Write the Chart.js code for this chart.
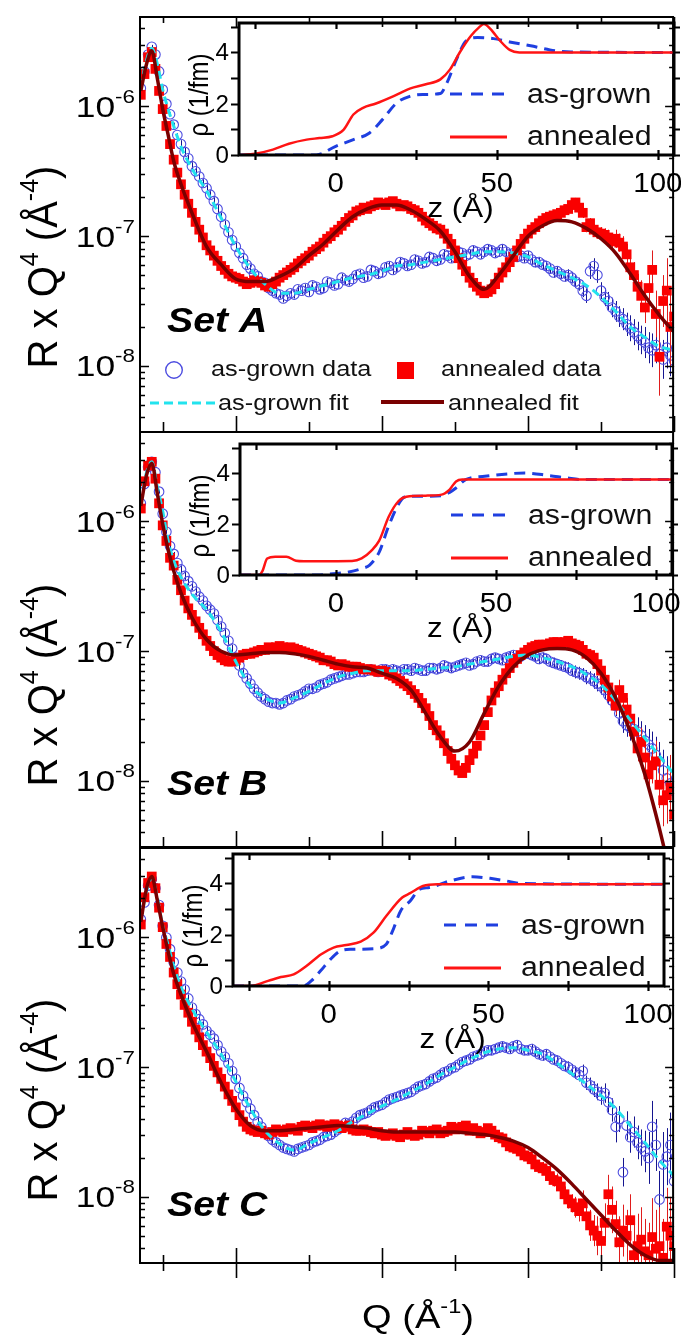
<!DOCTYPE html>
<html><head><meta charset="utf-8">
<script src="https://cdn.jsdelivr.net/npm/chart.js@4.4.1/dist/chart.umd.min.js"></script>
<style>
html,body{margin:0;padding:0;background:#fff;}
#wrap{position:relative;width:681px;height:1341px;overflow:hidden;background:#fff;}
canvas{position:absolute;left:0;top:0;}
</style></head><body>
<div id="wrap">
<canvas id="mA" width="681" height="1341"></canvas>
<canvas id="mB" width="681" height="1341"></canvas>
<canvas id="mC" width="681" height="1341"></canvas>
<canvas id="iA" width="681" height="1341"></canvas>
<canvas id="iB" width="681" height="1341"></canvas>
<canvas id="iC" width="681" height="1341"></canvas>
</div>
<script>
// ---------- axis / tick values ----------
const Q_TICKS = [0.02,0.04,0.06,0.08,0.10,0.12,0.14,0.16];
const Q_MAJOR = [0.04,0.08,0.12,0.16];
const R_DECADES = [-8,-7,-6];
const Z_TICKS = [-25,0,25,50,75,100];
const Z_LABELS = [0,50,100];
const RHO_TICKS = [0,1,2,3,4,5];
const RHO_LABELS = [0,2,4];

// ---------- Q grids (Å^-1) ----------
const qData = [
0.014,0.015,0.016,0.017,0.018,0.019,0.020,0.021,0.022,0.023,
0.024,0.025,0.026,0.027,0.028,0.029,0.030,0.031,0.032,0.033,
0.034,0.035,0.036,0.037,0.038,0.039,0.040,0.041,0.042,0.043,
0.044,0.045,0.046,0.047,0.048,0.049,0.050,0.051,0.052,0.053,
0.054,0.055,0.056,0.057,0.058,0.059,0.060,0.061,0.062,0.063,
0.064,0.065,0.066,0.067,0.068,0.069,0.070,0.071,0.072,0.073,
0.074,0.075,0.076,0.077,0.078,0.079,0.080,0.081,0.082,0.083,
0.084,0.085,0.086,0.087,0.088,0.089,0.090,0.091,0.092,0.093,
0.094,0.095,0.096,0.097,0.098,0.099,0.100,0.101,0.102,0.103,
0.104,0.105,0.106,0.107,0.108,0.109,0.110,0.111,0.112,0.113,
0.114,0.115,0.116,0.117,0.118,0.119,0.120,0.121,0.122,0.123,
0.124,0.125,0.126,0.127,0.128,0.129,0.130,0.131,0.132,0.133,
0.134,0.135,0.136,0.137,0.138,0.139,0.140,0.141,0.142,0.143,
0.144,0.145,0.146,0.147,0.148,0.149,0.150,0.151,0.152,0.153,
0.154,0.155,0.156,0.157,0.158,0.159,0.160];
const qFit = [0.014,0.0155,0.017,0.0185,0.020,0.0215,0.023,0.025,0.028,0.032,0.036,0.040,0.044,0.048,0.052,0.056,0.060,0.064,0.068,0.072,0.076,0.080,0.084,0.088,0.092,0.096,0.100,0.104,0.108,0.112,0.116,0.120,0.124,0.128,0.132,0.136,0.140,0.144,0.148,0.152,0.156,0.160];

// ---------- log10(R x Q^4) values ----------
const agDataA = [
-5.86,-5.73,-5.60,-5.54,-5.60,-5.73,-5.87,-5.98,-6.06,-6.14,
-6.22,-6.29,-6.35,-6.40,-6.46,-6.50,-6.54,-6.59,-6.63,-6.68,
-6.73,-6.79,-6.85,-6.91,-6.97,-7.03,-7.08,-7.13,-7.17,-7.22,
-7.25,-7.29,-7.31,-7.35,-7.36,-7.40,-7.42,-7.44,-7.45,-7.48,
-7.46,-7.44,-7.45,-7.41,-7.42,-7.40,-7.43,-7.38,-7.39,-7.41,
-7.40,-7.35,-7.36,-7.38,-7.37,-7.32,-7.34,-7.35,-7.33,-7.30,
-7.29,-7.32,-7.31,-7.26,-7.27,-7.29,-7.28,-7.24,-7.23,-7.26,
-7.24,-7.20,-7.21,-7.23,-7.22,-7.18,-7.19,-7.21,-7.20,-7.16,
-7.17,-7.19,-7.18,-7.14,-7.15,-7.17,-7.16,-7.12,-7.13,-7.15,
-7.14,-7.11,-7.12,-7.14,-7.12,-7.10,-7.11,-7.13,-7.12,-7.10,
-7.12,-7.14,-7.13,-7.16,-7.15,-7.17,-7.15,-7.18,-7.20,-7.20,
-7.22,-7.23,-7.25,-7.28,-7.27,-7.29,-7.31,-7.30,-7.32,-7.35,
-7.37,-7.42,-7.46,-7.27,-7.23,-7.30,-7.42,-7.47,-7.50,-7.55,
-7.58,-7.62,-7.64,-7.68,-7.71,-7.74,-7.77,-7.80,-7.82,-7.86,
-7.88,-7.84,-7.91,-7.95,-7.86,-7.92,-7.96];
const anDataA = [
-5.91,-5.75,-5.62,-5.58,-5.71,-5.88,-6.02,-6.15,-6.29,-6.41,
-6.51,-6.60,-6.68,-6.75,-6.82,-6.89,-6.95,-7.01,-7.07,-7.11,
-7.15,-7.19,-7.23,-7.26,-7.29,-7.31,-7.32,-7.33,-7.35,-7.37,
-7.36,-7.34,-7.35,-7.36,-7.38,-7.39,-7.37,-7.35,-7.32,-7.30,
-7.28,-7.26,-7.24,-7.21,-7.19,-7.17,-7.15,-7.12,-7.10,-7.08,
-7.05,-7.02,-7.00,-6.97,-6.95,-6.92,-6.89,-6.86,-6.84,-6.81,
-6.80,-6.78,-6.79,-6.77,-6.76,-6.74,-6.75,-6.76,-6.74,-6.73,
-6.75,-6.77,-6.76,-6.77,-6.79,-6.80,-6.82,-6.85,-6.88,-6.90,
-6.92,-6.94,-6.95,-6.98,-7.02,-7.06,-7.11,-7.17,-7.22,-7.27,
-7.32,-7.36,-7.39,-7.42,-7.44,-7.43,-7.41,-7.37,-7.32,-7.28,
-7.24,-7.20,-7.16,-7.11,-7.06,-7.02,-6.98,-6.95,-6.93,-6.90,
-6.88,-6.86,-6.85,-6.84,-6.83,-6.82,-6.80,-6.79,-6.76,-6.74,
-6.78,-6.82,-6.93,-6.90,-6.95,-6.97,-6.98,-6.99,-7.01,-7.04,
-7.02,-7.05,-7.08,-7.14,-7.24,-7.30,-7.39,-7.46,-7.55,-7.40,
-7.26,-7.60,-7.93,-7.50,-7.42,-7.70,-7.62];
const agFitA = [-5.85,-5.65,-5.55,-5.67,-5.87,-6.02,-6.15,-6.31,-6.48,-6.65,-6.86,-7.08,-7.25,-7.37,-7.44,-7.44,-7.41,-7.38,-7.35,-7.32,-7.30,-7.27,-7.23,-7.22,-7.20,-7.18,-7.16,-7.14,-7.12,-7.12,-7.13,-7.16,-7.22,-7.27,-7.32,-7.38,-7.47,-7.58,-7.70,-7.78,-7.85,-7.88];
const anFitA = [-5.88,-5.68,-5.57,-5.78,-6.02,-6.22,-6.42,-6.60,-6.82,-7.08,-7.22,-7.33,-7.35,-7.35,-7.31,-7.25,-7.15,-7.06,-6.95,-6.85,-6.79,-6.76,-6.76,-6.80,-6.87,-6.96,-7.12,-7.31,-7.41,-7.30,-7.15,-7.00,-6.92,-6.88,-6.89,-6.94,-7.02,-7.13,-7.29,-7.46,-7.61,-7.74];

const agDataB = [
-5.86,-5.71,-5.58,-5.54,-5.62,-5.77,-5.94,-6.08,-6.19,-6.25,
-6.32,-6.37,-6.42,-6.46,-6.50,-6.54,-6.58,-6.61,-6.65,-6.68,
-6.71,-6.76,-6.81,-6.86,-6.92,-6.98,-7.05,-7.11,-7.17,-7.21,
-7.25,-7.29,-7.32,-7.35,-7.37,-7.39,-7.40,-7.40,-7.41,-7.40,
-7.38,-7.37,-7.35,-7.34,-7.33,-7.31,-7.29,-7.29,-7.28,-7.26,
-7.25,-7.24,-7.22,-7.21,-7.20,-7.19,-7.18,-7.18,-7.17,-7.16,
-7.16,-7.16,-7.15,-7.14,-7.15,-7.16,-7.14,-7.14,-7.15,-7.14,
-7.15,-7.16,-7.14,-7.14,-7.15,-7.13,-7.14,-7.15,-7.15,-7.13,
-7.13,-7.14,-7.13,-7.11,-7.12,-7.13,-7.12,-7.11,-7.10,-7.09,
-7.11,-7.10,-7.08,-7.07,-7.08,-7.08,-7.06,-7.05,-7.06,-7.07,
-7.05,-7.04,-7.03,-7.05,-7.04,-7.02,-7.02,-7.03,-7.04,-7.06,
-7.05,-7.06,-7.08,-7.09,-7.10,-7.11,-7.12,-7.13,-7.15,-7.16,
-7.17,-7.18,-7.20,-7.21,-7.23,-7.25,-7.27,-7.30,-7.34,-7.38,
-7.42,-7.48,-7.54,-7.57,-7.59,-7.60,-7.62,-7.65,-7.69,-7.72,
-7.75,-7.80,-7.85,-7.92,-7.98,-8.02,-8.08];
const anDataB = [
-5.90,-5.69,-5.57,-5.54,-5.67,-5.86,-6.03,-6.15,-6.28,-6.34,
-6.45,-6.53,-6.61,-6.67,-6.72,-6.77,-6.82,-6.87,-6.92,-6.96,
-7.00,-7.03,-7.05,-7.07,-7.08,-7.08,-7.07,-7.05,-7.03,-7.02,
-7.02,-7.01,-7.00,-6.99,-6.99,-6.97,-6.98,-6.97,-6.96,-6.97,
-6.98,-6.97,-6.98,-6.99,-7.00,-7.01,-7.02,-7.03,-7.04,-7.05,
-7.07,-7.07,-7.08,-7.10,-7.11,-7.10,-7.11,-7.12,-7.12,-7.12,
-7.13,-7.14,-7.14,-7.14,-7.15,-7.16,-7.15,-7.16,-7.18,-7.19,
-7.21,-7.23,-7.25,-7.27,-7.30,-7.33,-7.36,-7.40,-7.44,-7.50,
-7.57,-7.61,-7.65,-7.71,-7.77,-7.83,-7.88,-7.92,-7.94,-7.90,
-7.84,-7.79,-7.73,-7.65,-7.57,-7.47,-7.38,-7.32,-7.27,-7.22,
-7.17,-7.13,-7.09,-7.06,-7.03,-7.01,-6.99,-6.97,-6.96,-6.95,
-6.95,-6.95,-6.94,-6.93,-6.93,-6.94,-6.93,-6.92,-6.94,-6.95,
-6.96,-6.99,-7.02,-7.03,-7.05,-7.10,-7.15,-7.22,-7.28,-7.35,
-7.42,-7.30,-7.36,-7.45,-7.52,-7.62,-7.75,-7.70,-7.82,-7.95,
-7.88,-7.85,-8.03,-8.15,-8.11,-8.05,-8.26];
const agFitB = [-5.85,-5.63,-5.54,-5.73,-5.92,-6.15,-6.30,-6.43,-6.56,-6.68,-6.85,-7.08,-7.27,-7.36,-7.40,-7.36,-7.31,-7.25,-7.20,-7.17,-7.15,-7.15,-7.15,-7.15,-7.14,-7.13,-7.12,-7.10,-7.08,-7.06,-7.04,-7.03,-7.05,-7.08,-7.12,-7.18,-7.26,-7.38,-7.53,-7.67,-7.81,-7.95];
const anFitB = [-5.88,-5.65,-5.55,-5.78,-6.02,-6.22,-6.38,-6.55,-6.74,-6.91,-7.00,-7.03,-7.02,-7.01,-7.01,-7.02,-7.04,-7.07,-7.10,-7.12,-7.13,-7.17,-7.21,-7.30,-7.48,-7.66,-7.77,-7.70,-7.48,-7.27,-7.12,-7.03,-6.99,-6.98,-6.99,-7.05,-7.17,-7.36,-7.62,-7.95,-8.37,-8.85];

const agDataC = [
-5.86,-5.73,-5.60,-5.55,-5.62,-5.75,-5.91,-6.00,-6.09,-6.19,
-6.27,-6.34,-6.40,-6.47,-6.54,-6.59,-6.63,-6.67,-6.72,-6.75,
-6.78,-6.83,-6.88,-6.92,-6.97,-7.03,-7.09,-7.16,-7.22,-7.27,
-7.32,-7.37,-7.42,-7.46,-7.50,-7.53,-7.56,-7.58,-7.60,-7.62,
-7.63,-7.64,-7.65,-7.63,-7.62,-7.61,-7.60,-7.58,-7.57,-7.56,
-7.54,-7.53,-7.52,-7.50,-7.48,-7.46,-7.43,-7.44,-7.42,-7.39,
-7.37,-7.36,-7.35,-7.33,-7.31,-7.30,-7.29,-7.27,-7.25,-7.24,
-7.23,-7.22,-7.21,-7.20,-7.19,-7.17,-7.15,-7.14,-7.13,-7.11,
-7.09,-7.08,-7.06,-7.04,-7.03,-7.01,-7.00,-6.98,-6.96,-6.95,
-6.94,-6.92,-6.91,-6.90,-6.88,-6.87,-6.87,-6.86,-6.85,-6.84,
-6.85,-6.86,-6.84,-6.83,-6.86,-6.87,-6.87,-6.86,-6.88,-6.90,
-6.91,-6.90,-6.92,-6.94,-6.95,-6.97,-6.99,-7.00,-7.02,-7.04,
-7.06,-7.03,-7.12,-7.14,-7.17,-7.19,-7.22,-7.20,-7.27,-7.33,
-7.46,-7.40,-7.81,-7.45,-7.54,-7.50,-7.58,-7.62,-7.65,-7.70,
-7.46,-7.60,-8.02,-7.75,-7.69,-7.60,-7.88];
const anDataC = [
-5.90,-5.69,-5.58,-5.53,-5.62,-5.77,-5.92,-6.05,-6.15,-6.27,
-6.36,-6.44,-6.52,-6.58,-6.65,-6.71,-6.77,-6.83,-6.88,-6.93,
-6.99,-7.04,-7.09,-7.15,-7.21,-7.26,-7.31,-7.37,-7.42,-7.46,
-7.48,-7.49,-7.50,-7.49,-7.51,-7.52,-7.50,-7.48,-7.49,-7.50,
-7.48,-7.47,-7.48,-7.49,-7.46,-7.45,-7.46,-7.47,-7.45,-7.44,
-7.45,-7.46,-7.45,-7.44,-7.45,-7.47,-7.46,-7.45,-7.48,-7.49,
-7.49,-7.48,-7.49,-7.50,-7.51,-7.50,-7.52,-7.53,-7.52,-7.51,
-7.53,-7.54,-7.52,-7.50,-7.52,-7.53,-7.52,-7.49,-7.50,-7.51,
-7.49,-7.48,-7.51,-7.50,-7.49,-7.46,-7.48,-7.47,-7.46,-7.45,
-7.49,-7.47,-7.49,-7.51,-7.50,-7.47,-7.49,-7.52,-7.54,-7.55,
-7.58,-7.61,-7.62,-7.63,-7.65,-7.68,-7.69,-7.71,-7.75,-7.77,
-7.78,-7.80,-7.84,-7.87,-7.88,-7.92,-7.98,-8.02,-8.05,-8.08,
-8.11,-8.05,-8.15,-8.22,-8.26,-8.30,-8.34,-8.20,-7.98,-8.10,
-8.21,-8.35,-8.26,-8.30,-8.18,-8.45,-8.38,-8.33,-8.42,-8.45,
-8.31,-8.40,-8.38,-8.47,-8.23,-8.30,-8.38];
const agFitC = [-5.86,-5.65,-5.54,-5.69,-5.91,-6.06,-6.22,-6.38,-6.55,-6.73,-6.90,-7.11,-7.32,-7.49,-7.59,-7.64,-7.59,-7.54,-7.49,-7.42,-7.36,-7.30,-7.25,-7.19,-7.13,-7.06,-7.00,-6.94,-6.89,-6.86,-6.85,-6.87,-6.90,-6.97,-7.05,-7.13,-7.22,-7.32,-7.45,-7.58,-7.72,-7.84];
const anFitC = [-5.88,-5.63,-5.53,-5.71,-5.92,-6.11,-6.28,-6.44,-6.65,-6.88,-7.12,-7.32,-7.45,-7.49,-7.49,-7.48,-7.47,-7.46,-7.45,-7.46,-7.47,-7.49,-7.50,-7.50,-7.50,-7.50,-7.50,-7.51,-7.52,-7.54,-7.57,-7.62,-7.70,-7.79,-7.90,-8.02,-8.14,-8.26,-8.37,-8.45,-8.49,-8.49];

// ---------- error half-widths (decades), same Q grid ----------
const agErrA = [
0.015,0.015,0.015,0.015,0.015,0.015,0.015,0.015,0.015,0.015,
0.015,0.03,0.03,0.03,0.03,0.03,0.03,0.03,0.03,0.03,
0.03,0.03,0.03,0.03,0.03,0.03,0.03,0.03,0.03,0.03,
0.03,0.03,0.03,0.03,0.03,0.03,0.03,0.03,0.03,0.03,
0.03,0.03,0.03,0.03,0.03,0.03,0.03,0.03,0.03,0.03,
0.03,0.03,0.03,0.03,0.03,0.03,0.03,0.03,0.03,0.03,
0.03,0.03,0.035,0.035,0.035,0.035,0.035,0.035,0.035,0.035,
0.035,0.035,0.035,0.035,0.035,0.035,0.035,0.035,0.035,0.035,
0.035,0.035,0.035,0.035,0.035,0.035,0.035,0.035,0.035,0.035,
0.035,0.035,0.035,0.035,0.035,0.035,0.035,0.035,0.035,0.035,
0.035,0.035,0.035,0.035,0.035,0.035,0.035,0.04,0.04,0.04,
0.04,0.04,0.04,0.04,0.04,0.04,0.04,0.045,0.045,0.05,
0.05,0.05,0.055,0.06,0.06,0.06,0.065,0.07,0.07,0.075,
0.08,0.08,0.085,0.09,0.1,0.1,0.11,0.11,0.12,0.12,
0.13,0.14,0.14,0.15,0.16,0.16,0.17];
const anErrA = [
0.01,0.01,0.01,0.01,0.01,0.01,0.01,0.01,0.01,0.01,
0.01,0.02,0.02,0.02,0.02,0.02,0.02,0.02,0.02,0.02,
0.02,0.02,0.02,0.02,0.02,0.02,0.02,0.02,0.02,0.02,
0.02,0.02,0.02,0.02,0.02,0.02,0.02,0.02,0.02,0.02,
0.02,0.02,0.02,0.02,0.02,0.02,0.02,0.02,0.02,0.02,
0.02,0.02,0.02,0.02,0.02,0.02,0.02,0.02,0.02,0.02,
0.02,0.02,0.02,0.02,0.02,0.02,0.02,0.02,0.02,0.02,
0.02,0.02,0.02,0.02,0.02,0.02,0.02,0.02,0.02,0.02,
0.02,0.02,0.02,0.02,0.02,0.02,0.02,0.02,0.02,0.02,
0.02,0.02,0.02,0.02,0.02,0.02,0.02,0.02,0.02,0.02,
0.02,0.02,0.02,0.02,0.02,0.02,0.02,0.03,0.03,0.03,
0.03,0.03,0.03,0.03,0.03,0.03,0.03,0.03,0.035,0.035,
0.035,0.04,0.04,0.04,0.045,0.05,0.05,0.05,0.06,0.06,
0.07,0.07,0.08,0.08,0.09,0.1,0.1,0.12,0.12,0.14,
0.15,0.18,0.3,0.2,0.25,0.3,0.3];
const agErrB = [
0.015,0.015,0.015,0.015,0.015,0.015,0.015,0.015,0.015,0.015,
0.015,0.03,0.03,0.03,0.03,0.03,0.03,0.03,0.03,0.03,
0.03,0.03,0.03,0.03,0.03,0.03,0.03,0.03,0.03,0.03,
0.03,0.03,0.03,0.03,0.03,0.03,0.03,0.03,0.03,0.03,
0.03,0.03,0.03,0.03,0.03,0.03,0.03,0.03,0.03,0.03,
0.03,0.03,0.03,0.03,0.03,0.03,0.03,0.03,0.03,0.03,
0.03,0.03,0.035,0.035,0.035,0.035,0.035,0.035,0.035,0.035,
0.035,0.035,0.035,0.035,0.035,0.035,0.035,0.035,0.035,0.035,
0.035,0.035,0.035,0.035,0.035,0.035,0.035,0.035,0.035,0.035,
0.035,0.035,0.035,0.035,0.035,0.035,0.035,0.035,0.035,0.035,
0.035,0.035,0.035,0.035,0.035,0.035,0.035,0.04,0.04,0.04,
0.04,0.04,0.04,0.04,0.04,0.04,0.04,0.045,0.045,0.05,
0.05,0.05,0.055,0.055,0.06,0.06,0.065,0.07,0.07,0.075,
0.08,0.085,0.09,0.09,0.1,0.1,0.11,0.11,0.12,0.12,
0.13,0.14,0.15,0.16,0.17,0.18,0.2];
const anErrB = [
0.01,0.01,0.01,0.01,0.01,0.01,0.01,0.01,0.01,0.01,
0.01,0.02,0.02,0.02,0.02,0.02,0.02,0.02,0.02,0.02,
0.02,0.02,0.02,0.02,0.02,0.02,0.02,0.02,0.02,0.02,
0.02,0.02,0.02,0.02,0.02,0.02,0.02,0.02,0.02,0.02,
0.02,0.02,0.02,0.02,0.02,0.02,0.02,0.02,0.02,0.02,
0.02,0.02,0.02,0.02,0.02,0.02,0.02,0.02,0.02,0.02,
0.02,0.02,0.02,0.02,0.02,0.02,0.02,0.02,0.02,0.02,
0.02,0.02,0.02,0.02,0.02,0.02,0.02,0.02,0.02,0.02,
0.02,0.02,0.02,0.02,0.02,0.02,0.02,0.02,0.02,0.02,
0.02,0.02,0.02,0.02,0.02,0.02,0.02,0.02,0.02,0.02,
0.02,0.02,0.02,0.02,0.02,0.02,0.02,0.03,0.03,0.03,
0.03,0.03,0.03,0.03,0.03,0.03,0.03,0.03,0.035,0.035,
0.035,0.04,0.04,0.045,0.045,0.05,0.05,0.06,0.06,0.07,
0.07,0.08,0.08,0.09,0.09,0.1,0.1,0.11,0.12,0.13,
0.14,0.16,0.18,0.2,0.22,0.25,0.25];
const agErrC = [
0.015,0.015,0.015,0.015,0.015,0.015,0.015,0.015,0.015,0.015,
0.015,0.03,0.03,0.03,0.03,0.03,0.03,0.03,0.03,0.03,
0.03,0.03,0.03,0.03,0.03,0.03,0.03,0.03,0.03,0.03,
0.03,0.03,0.03,0.03,0.03,0.03,0.03,0.03,0.03,0.03,
0.03,0.03,0.03,0.03,0.03,0.03,0.03,0.03,0.03,0.03,
0.03,0.03,0.03,0.03,0.03,0.03,0.03,0.03,0.03,0.03,
0.03,0.03,0.035,0.035,0.035,0.035,0.035,0.035,0.035,0.035,
0.035,0.035,0.035,0.035,0.035,0.035,0.035,0.035,0.035,0.035,
0.035,0.035,0.035,0.035,0.035,0.035,0.035,0.035,0.035,0.035,
0.035,0.035,0.035,0.035,0.035,0.035,0.035,0.035,0.035,0.035,
0.035,0.035,0.035,0.035,0.035,0.035,0.035,0.04,0.04,0.04,
0.04,0.04,0.04,0.04,0.04,0.04,0.04,0.045,0.045,0.05,
0.05,0.05,0.055,0.06,0.06,0.065,0.07,0.075,0.08,0.09,
0.12,0.1,0.11,0.11,0.12,0.12,0.13,0.14,0.16,0.2,
0.2,0.2,0.22,0.25,0.22,0.25,0.25];
const anErrC = [
0.01,0.01,0.01,0.01,0.01,0.01,0.01,0.01,0.01,0.01,
0.01,0.02,0.02,0.02,0.02,0.02,0.02,0.02,0.02,0.02,
0.02,0.02,0.02,0.02,0.02,0.02,0.02,0.02,0.02,0.02,
0.02,0.02,0.02,0.02,0.02,0.02,0.02,0.02,0.02,0.02,
0.02,0.02,0.02,0.02,0.02,0.02,0.02,0.02,0.02,0.02,
0.02,0.02,0.02,0.02,0.02,0.02,0.02,0.02,0.02,0.02,
0.02,0.02,0.02,0.02,0.02,0.02,0.02,0.02,0.02,0.02,
0.02,0.02,0.02,0.02,0.02,0.02,0.02,0.02,0.02,0.02,
0.02,0.02,0.02,0.02,0.02,0.02,0.02,0.02,0.02,0.02,
0.02,0.02,0.02,0.02,0.02,0.02,0.02,0.02,0.02,0.02,
0.02,0.02,0.02,0.02,0.02,0.02,0.02,0.04,0.04,0.04,
0.05,0.05,0.05,0.05,0.06,0.06,0.06,0.07,0.07,0.08,
0.08,0.1,0.1,0.12,0.12,0.15,0.15,0.15,0.15,0.18,
0.18,0.2,0.2,0.2,0.2,0.25,0.25,0.25,0.25,0.25,
0.3,0.3,0.3,0.3,0.3,0.3,0.3];

// ---------- inset density profiles: z (Å), rho (1/fm) ----------
const zAnA = [-30,-25,-19.5,-14.5,-9,-5,-1,2.5,5.5,8.5,12.5,18,23,28,32.5,35.5,38.5,42,44.5,46,48,51,54,57,71,105];
const rhoAnA = [0,0.05,0.21,0.44,0.6,0.66,0.73,0.99,1.58,1.84,2.01,2.30,2.59,2.76,2.95,3.34,4.0,4.65,4.98,5.11,4.92,4.46,4.1,4.0,4.0,4.0];
const zAgA = [-30,-6,0,5.5,10.5,14.5,19,23,27,32.5,34.5,37.5,40.5,44,49,54,60.5,66.5,73,105];
const rhoAgA = [0,0,0.34,0.6,0.86,1.38,2.04,2.29,2.36,2.4,2.81,3.73,4.45,4.58,4.54,4.41,4.26,4.1,4.02,4.0];
const zAnB = [-30,-24,-23,-21.5,-19,-15.5,-12.5,-10,5,8,11,13.5,16.5,19.5,22,28,33,35.5,37.5,39.5,105];
const rhoAnB = [0,0,0.15,0.65,0.72,0.72,0.56,0.54,0.55,0.65,0.95,1.35,2.3,2.9,3.08,3.12,3.16,3.36,3.68,3.75,3.75];
const zAgB = [-30,-6,-1,4,8,10.5,13.5,16.5,20.5,23,28,33,35.5,37.5,40.5,46.5,54,59,66.5,72,77,105];
const rhoAgB = [0,0,0.05,0.12,0.25,0.39,0.9,1.94,2.97,3.1,3.1,3.12,3.25,3.42,3.75,3.88,3.98,4.01,3.91,3.82,3.75,3.75];
const zAnC = [-30,-24.5,-19,-15,-11,-7,-2.5,1.5,5.5,10,14,18,23,25.5,29.5,34,105];
const rhoAnC = [0,0,0.2,0.35,0.45,0.78,1.23,1.5,1.6,1.73,2.08,2.73,3.45,3.62,3.9,3.97,3.97];
const zAgC = [-30,-8,-5.5,-2.5,0.5,3.5,7,14,18,20,22.5,25.5,28.5,31.5,38,45,50.5,55.5,60,105];
const rhoAgC = [0,0,0.2,0.6,1.04,1.36,1.43,1.45,1.63,2.15,2.93,3.32,3.78,3.84,4.1,4.26,4.2,4.1,4.0,3.97];

// sanity check of lengths
[['agDataA',agDataA],['anDataA',anDataA],['agDataB',agDataB],['anDataB',anDataB],['agDataC',agDataC],['anDataC',anDataC],
 ['agErrA',agErrA],['anErrA',anErrA],['agErrB',agErrB],['anErrB',anErrB],['agErrC',agErrC],['anErrC',anErrC]].forEach(([n,a]) => {
  if (a.length !== qData.length) throw new Error(n + ' length ' + a.length + ' vs ' + qData.length);
});
[['agFitA',agFitA],['anFitA',anFitA],['agFitB',agFitB],['anFitB',anFitB],['agFitC',agFitC],['anFitC',anFitC]].forEach(([n,a]) => {
  if (a.length !== qFit.length) throw new Error(n + ' length ' + a.length);
});

// ---------- styling ----------
const FONT = '"Liberation Sans", Arial, Helvetica, sans-serif';
const SX = 1.12;
const C_AG = '#4d4de0', C_AGERR = '#15158f', C_AN = '#fa0000', C_ANERR = '#e01c1c';
const C_AGFIT = '#22e3ee', C_ANFIT = '#7a0000', C_IBLUE = '#1f3fe0', C_IRED = '#ff1414';

function rich(ctx, parts, x, y, align, o = {}) {
  const sx = o.sx !== undefined ? o.sx : SX;
  ctx.save();
  ctx.fillStyle = o.color || '#000';
  ctx.textBaseline = 'alphabetic'; ctx.textAlign = 'left';
  const font = p => `${o.style || 'normal'} ${o.weight || 'normal'} ${p.s}px ${FONT}`;
  let w = 0;
  parts.forEach(p => { ctx.font = font(p); p.w = ctx.measureText(p.t).width; w += p.w; });
  ctx.translate(x, y);
  if (o.rot) { ctx.rotate(o.rot); ctx.scale(1, sx); } else ctx.scale(sx, 1);
  let cx = align === 'center' ? -w / 2 : align === 'right' ? -w : 0;
  parts.forEach(p => { ctx.font = font(p); ctx.fillText(p.t, cx, -(p.rise || 0)); cx += p.w; });
  ctx.restore();
}

const errBars = {
  id: 'errBars',
  beforeDatasetDraw(chart, args) {
    const ds = chart.data.datasets[args.index];
    if (!ds.errDec) return;
    const {ctx, chartArea: a, scales: {x, y}} = chart;
    ctx.save();
    ctx.beginPath(); ctx.rect(a.left, a.top, a.right - a.left, a.bottom - a.top); ctx.clip();
    ctx.strokeStyle = ds.errColor; ctx.lineWidth = ds.errWidth || 1;
    ctx.beginPath();
    ds.data.forEach((p, i) => {
      const e = ds.errDec[i], lv = Math.log10(p.y);
      const px = Math.round(x.getPixelForValue(p.x)) + 0.5;
      ctx.moveTo(px, y.getPixelForValue(Math.pow(10, lv + e)));
      ctx.lineTo(px, y.getPixelForValue(Math.pow(10, lv - e)));
    });
    ctx.stroke(); ctx.restore();
  }
};

const mainDeco = {
  id: 'mainDeco',
  afterDraw(chart) {
    const o = chart.options.plugins.mainDeco;
    const {ctx, chartArea: a, scales: {x, y}} = chart;
    ctx.save();
    ctx.strokeStyle = '#000'; ctx.lineWidth = 1.6;
    ctx.beginPath();
    for (let e = -9; e <= -5; e++) for (let k = 1; k <= 9; k++) {
      const v = k * Math.pow(10, e);
      if (v < y.min || v > y.max) continue;
      const py = Math.round(y.getPixelForValue(v)) + 0.5;
      const len = k === 1 ? 9 : 5;
      ctx.moveTo(a.left, py); ctx.lineTo(a.left + len, py);
      ctx.moveTo(a.right, py); ctx.lineTo(a.right - len, py);
    }
    Q_TICKS.forEach(q => {
      const px = Math.round(x.getPixelForValue(q)) + 0.5;
      const major = Q_MAJOR.includes(q);
      if (o.xStyle === 'cross') {
        const len = major ? 15 : 8;
        ctx.moveTo(px, a.bottom - len); ctx.lineTo(px, a.bottom + len);
      } else {
        const len = major ? 16 : 10;
        ctx.moveTo(px, a.bottom); ctx.lineTo(px, a.bottom - len);
      }
      if (o.topTicks) { ctx.moveTo(px, a.top); ctx.lineTo(px, a.top + (major ? 10 : 6)); }
    });
    ctx.stroke();
    ctx.lineWidth = 2;
    ctx.strokeRect(a.left, a.top, a.right - a.left - 1, a.bottom - a.top);
    R_DECADES.forEach(e => {
      const py = y.getPixelForValue(Math.pow(10, e));
      rich(ctx, [{t: '10', s: 30}, {t: String(e), s: 19, rise: 14}], 135, py + 10.5, 'right', {sx: 1.18});
    });
    rich(ctx, [{t: 'R x Q', s: 40}, {t: '4', s: 25, rise: 18}, {t: ' (Å', s: 40}, {t: '-4', s: 25, rise: 18}, {t: ')', s: 40}],
      57, o.titleCy, 'center', {rot: -Math.PI / 2, sx: 1.05});
    rich(ctx, [{t: o.set, s: 35}], 167, o.setBase, 'left', {style: 'italic', weight: 'bold', sx: 1.12});
    if (o.xTitle) {
      rich(ctx, [{t: 'Q (Å', s: 34}, {t: '-1', s: 21, rise: 15}, {t: ')', s: 34}], 418, 1328, 'center', {sx: 1.12});
    }
    if (o.legend) {
      const ds = chart.data.datasets;
      ctx.lineWidth = 1.4; ctx.strokeStyle = C_AG;
      ctx.beginPath(); ctx.arc(174, 370, 8.3, 0, Math.PI * 2); ctx.stroke();
      rich(ctx, [{t: ds[0].label, s: 22}], 211, 376, 'left', {color: '#111', sx: 1.15});
      ctx.fillStyle = C_AN; ctx.fillRect(397, 362, 17, 17);
      rich(ctx, [{t: ds[1].label, s: 22}], 441, 376, 'left', {color: '#111', sx: 1.15});
      ctx.lineWidth = 3; ctx.strokeStyle = C_AGFIT; ctx.setLineDash([9, 5]);
      ctx.beginPath(); ctx.moveTo(150, 403); ctx.lineTo(215, 403); ctx.stroke();
      ctx.setLineDash([]);
      rich(ctx, [{t: ds[2].label, s: 22}], 218, 410, 'left', {color: '#111', sx: 1.15});
      ctx.lineWidth = 4; ctx.strokeStyle = C_ANFIT;
      ctx.beginPath(); ctx.moveTo(381, 402); ctx.lineTo(444, 402); ctx.stroke();
      rich(ctx, [{t: ds[3].label, s: 22}], 448, 410, 'left', {color: '#111', sx: 1.15});
    }
    ctx.restore();
  }
};

const insetDeco = {
  id: 'insetDeco',
  afterDraw(chart) {
    const {ctx, chartArea: a, scales: {x, y}} = chart;
    ctx.save();
    ctx.strokeStyle = '#000'; ctx.lineWidth = 2.2;
    ctx.beginPath();
    Z_TICKS.forEach(z => {
      const px = Math.round(x.getPixelForValue(z)) + 0.5;
      ctx.moveTo(px, a.bottom - 5); ctx.lineTo(px, a.bottom + 5);
      ctx.moveTo(px, a.top); ctx.lineTo(px, a.top + 6);
    });
    RHO_TICKS.forEach(r => {
      const py = Math.round(y.getPixelForValue(r)) + 0.5;
      ctx.moveTo(a.left - 8, py); ctx.lineTo(a.left, py);
      ctx.moveTo(a.right, py); ctx.lineTo(a.right + 6, py);
    });
    ctx.stroke();
    ctx.lineWidth = 3;
    ctx.strokeRect(a.left, a.top, a.right - a.left, a.bottom - a.top);
    Z_LABELS.forEach(z => rich(ctx, [{t: String(z), s: 28}], x.getPixelForValue(z), a.bottom + 37, 'center', {sx: 1.05}));
    RHO_LABELS.forEach(r => rich(ctx, [{t: String(r), s: 23}], a.left - 10, y.getPixelForValue(r) + 8, 'right', {sx: 1.05}));
    rich(ctx, [{t: 'z (Å)', s: 28}], (a.left + a.right) / 2 + 4, a.bottom + 62, 'center');
    rich(ctx, [{t: 'ρ (1/fm)', s: 24}], a.left - 31, a.top + 72, 'center', {rot: -Math.PI / 2});
    const ds = chart.data.datasets, L = a.left;
    ctx.lineWidth = 3; ctx.strokeStyle = C_IBLUE; ctx.setLineDash([12, 9]);
    ctx.beginPath(); ctx.moveTo(L + 211, a.top + 71); ctx.lineTo(L + 268, a.top + 71); ctx.stroke();
    ctx.setLineDash([]); ctx.strokeStyle = C_IRED; ctx.lineWidth = 3;
    ctx.beginPath(); ctx.moveTo(L + 211, a.top + 114); ctx.lineTo(L + 268, a.top + 114); ctx.stroke();
    rich(ctx, [{t: ds[1].label, s: 27}], L + 288, a.top + 79.5, 'left', {color: '#111'});
    rich(ctx, [{t: ds[0].label, s: 27}], L + 288, a.top + 122, 'left', {color: '#111'});
    ctx.restore();
  }
};

const Q_MIN = 0.01378, Q_MAX = 0.16;
const LOG_MIN = -8.51, LOG_MAX = -5.31;
const pts = (xs, ls) => xs.map((q, i) => ({x: q, y: Math.pow(10, ls[i])}));
const prof = (zs, rs) => zs.map((z, i) => ({x: z, y: rs[i]}));

function mainChart(id, top, bottom, d, deco) {
  return new Chart(document.getElementById(id), {
    type: 'scatter',
    data: {datasets: [
      {label: 'as-grown data', data: pts(qData, d.ag), showLine: false, pointStyle: 'circle', pointRadius: 4.8,
       borderColor: C_AG, borderWidth: 1.1, backgroundColor: 'rgba(0,0,0,0)', errDec: d.agErr, errColor: C_AGERR, order: 3},
      {label: 'annealed data', data: pts(qData, d.an), showLine: false, pointStyle: 'rect', pointRadius: 6.9,
       borderColor: C_AN, borderWidth: 0, backgroundColor: C_AN, errDec: d.anErr, errColor: C_ANERR, order: 2},
      {label: 'as-grown fit', data: pts(qFit, d.agFit), showLine: true, pointRadius: 0, borderColor: C_AGFIT,
       borderWidth: 3, borderDash: [8, 5], cubicInterpolationMode: 'monotone', order: 1},
      {label: 'annealed fit', data: pts(qFit, d.anFit), showLine: true, pointRadius: 0, borderColor: C_ANFIT,
       borderWidth: 3.5, cubicInterpolationMode: 'monotone', order: 0}
    ]},
    options: {
      responsive: false, animation: false, events: [],
      layout: {padding: {left: 140, right: 0, top: top, bottom: 1341 - bottom}},
      scales: {
        x: {type: 'linear', display: false, min: Q_MIN, max: Q_MAX},
        y: {type: 'logarithmic', display: false, min: Math.pow(10, LOG_MIN), max: Math.pow(10, LOG_MAX)}
      },
      plugins: {legend: {display: false}, tooltip: {enabled: false}, mainDeco: deco}
    },
    plugins: [errBars, mainDeco]
  });
}

function insetChart(id, box, d) {
  return new Chart(document.getElementById(id), {
    type: 'scatter',
    data: {datasets: [
      {label: 'annealed', data: prof(d.zAn, d.rAn), showLine: true, pointRadius: 0, borderColor: C_IRED,
       borderWidth: 2.5, cubicInterpolationMode: 'monotone', order: 0},
      {label: 'as-grown', data: prof(d.zAg, d.rAg), showLine: true, pointRadius: 0, borderColor: C_IBLUE,
       borderWidth: 3, borderDash: [11, 7], cubicInterpolationMode: 'monotone', order: 1}
    ]},
    options: {
      responsive: false, animation: false, events: [],
      layout: {padding: {left: box.l, right: 681 - box.r, top: box.t, bottom: 1341 - box.b}},
      scales: {
        x: {type: 'linear', display: false, min: -30, max: 105},
        y: {type: 'linear', display: false, min: 0, max: 5.15}
      },
      plugins: {legend: {display: false}, tooltip: {enabled: false}}
    },
    plugins: [insetDeco]
  });
}

mainChart('mA', 17, 432, {ag: agDataA, an: anDataA, agFit: agFitA, anFit: anFitA, agErr: agErrA, anErr: anErrA},
  {set: 'Set A', setBase: 332, titleCy: 267, xStyle: 'in', topTicks: true, legend: true});
mainChart('mB', 432, 847, {ag: agDataB, an: anDataB, agFit: agFitB, anFit: anFitB, agErr: agErrB, anErr: anErrB},
  {set: 'Set B', setBase: 795, titleCy: 685, xStyle: 'in'});
mainChart('mC', 848, 1263, {ag: agDataC, an: anDataC, agFit: agFitC, anFit: anFitC, agErr: agErrC, anErr: anErrC},
  {set: 'Set C', setBase: 1216, titleCy: 1100, xStyle: 'cross', xTitle: true});
insetChart('iA', {l: 239, r: 674, t: 23, b: 155}, {zAn: zAnA, rAn: rhoAnA, zAg: zAgA, rAg: rhoAgA});
insetChart('iB', {l: 240, r: 672, t: 444, b: 575}, {zAn: zAnB, rAn: rhoAnB, zAg: zAgB, rAg: rhoAgB});
insetChart('iC', {l: 233, r: 664, t: 854, b: 986}, {zAn: zAnC, rAn: rhoAnC, zAg: zAgC, rAg: rhoAgC});
</script>
</body></html>
